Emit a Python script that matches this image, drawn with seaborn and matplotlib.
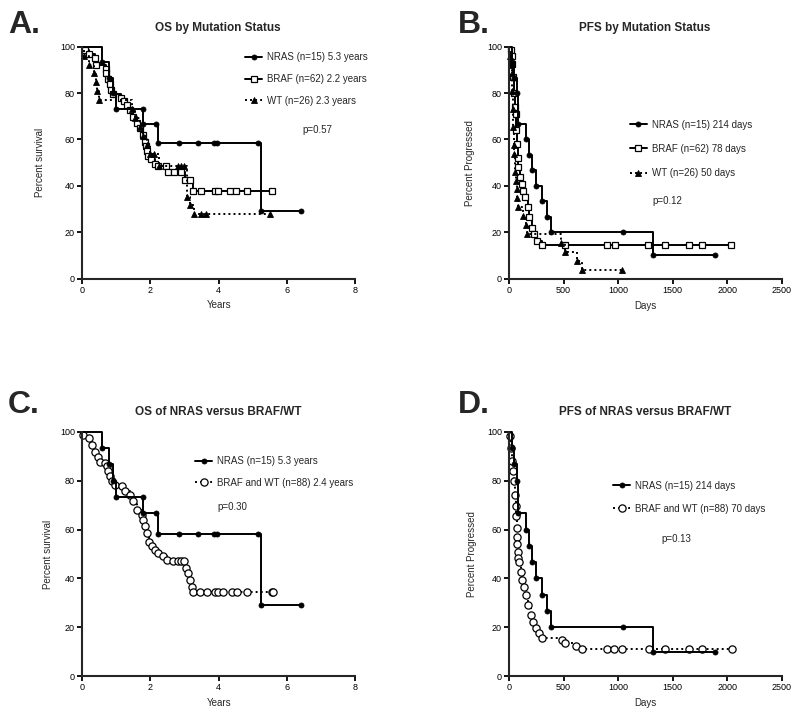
import numpy as np
import pandas as pd
import matplotlib
matplotlib.use('Agg')
import matplotlib.pyplot as plt
import seaborn as sns
from matplotlib.lines import Line2D

# ---------------- data ----------------
# NRAS (n=15) overall survival, years / percent survival
nras_os_years = [0, 0.6, 0.8, 0.9, 1.0, 1.78, 1.8, 2.18, 2.22, 2.85, 3.4, 3.85, 3.95, 5.16, 5.25, 6.4]
nras_os_pct = [100, 93.3, 86.7, 80.0, 73.3, 73.3, 66.7, 66.7, 58.3, 58.3, 58.3, 58.3, 58.3, 58.3, 29.2, 29.2]

# BRAF (n=62) overall survival
braf_os_years = [0, 0.1, 0.2, 0.37, 0.42, 0.69, 0.71, 0.76, 0.81, 0.86, 0.9, 1.15, 1.23, 1.32, 1.4,
                 1.5, 1.6, 1.7, 1.8, 1.84, 1.88, 1.9, 1.93, 2.03, 2.13, 2.22, 2.47, 2.52, 2.7, 2.9,
                 3.02, 3.15, 3.25, 3.49, 3.88, 3.98, 4.32, 4.51, 4.82, 5.57]
braf_os_pct = [100, 98.4, 96.8, 95.2, 91.9, 90.3, 88.7, 86.1, 83.9, 81.3, 79.7, 78.1, 76.5, 74.8, 72.7,
               69.5, 67.2, 65.0, 62.0, 59.0, 57.0, 55.0, 53.0, 51.5, 49.5, 48.5, 48.5, 46.0, 46.0, 46.0,
               42.5, 42.5, 38.0, 38.0, 38.0, 38.0, 38.0, 38.0, 38.0, 38.0]

# WT (n=26) overall survival
wt_os_years = [0, 0.05, 0.2, 0.35, 0.42, 0.45, 0.5, 1.45, 1.55, 1.7, 1.8, 1.9, 2.0, 2.1, 2.25,
               2.81, 2.9, 3.0, 3.07, 3.15, 3.27, 3.47, 3.64, 5.5]
wt_os_pct = [100, 96.2, 92.3, 88.5, 84.6, 80.8, 76.9, 73.1, 69.2, 65.4, 61.5, 57.7, 53.8, 53.8, 48.7,
             48.7, 48.7, 48.7, 35.0, 31.6, 27.8, 27.8, 27.8, 27.8]

# BRAF and WT (n=88) overall survival
comb_os_years = [0, 0.04, 0.2, 0.28, 0.38, 0.48, 0.53, 0.67, 0.72, 0.77, 0.82, 0.87, 0.97, 1.16, 1.26,
                 1.4, 1.5, 1.62, 1.75, 1.8, 1.85, 1.9, 1.95, 2.04, 2.14, 2.23, 2.38, 2.48, 2.65, 2.8,
                 2.9, 3.0, 3.05, 3.1, 3.15, 3.22, 3.26, 3.45, 3.65, 3.89, 3.99, 4.14, 4.38, 4.53,
                 4.84, 5.55, 5.6]
comb_os_pct = [100, 98.7, 97.3, 94.6, 91.8, 89.8, 87.8, 87.0, 85.8, 83.8, 81.7, 79.7, 78.3, 77.6, 75.6,
               74.2, 71.5, 68.1, 66.0, 64.0, 61.3, 58.5, 55.1, 53.1, 51.7, 50.4, 49.0, 47.6, 47.0, 47.0,
               47.0, 47.0, 44.2, 42.2, 39.5, 36.7, 34.3, 34.3, 34.3, 34.3, 34.3, 34.3, 34.3, 34.3,
               34.3, 34.3, 34.3]

# NRAS (n=15) progression-free survival, days / percent
nras_pfs_days = [0, 30, 49, 70, 80, 153, 186, 214, 244, 305, 351, 385, 1047, 1316, 1886]
nras_pfs_pct = [100, 93.3, 86.7, 80.0, 66.7, 60.0, 53.3, 46.7, 40.0, 33.3, 26.7, 20.0, 20.0, 10.0, 10.0]

# BRAF (n=62) progression-free survival
braf_pfs_days = [0, 20, 24, 30, 40, 49, 55, 61, 64, 70, 79, 85, 101, 116, 131, 146, 171, 186, 207,
                 232, 259, 305, 510, 897, 971, 1276, 1429, 1646, 1765, 2033]
braf_pfs_pct = [100, 98.4, 96.0, 92.5, 87.0, 80.0, 74.0, 71.0, 64.0, 58.0, 52.0, 48.0, 44.0, 41.0,
                38.0, 35.0, 31.0, 26.4, 22.0, 19.3, 16.4, 14.5, 14.5, 14.5, 14.5, 14.5, 14.5, 14.5,
                14.5, 14.5]

# WT (n=26) progression-free survival
wt_pfs_days = [0, 10, 18, 24, 30, 35, 40, 45, 49, 55, 62, 70, 76, 86, 131, 156, 168, 480, 513, 620,
               666, 1032]
wt_pfs_pct = [100, 96.2, 92.3, 88.5, 80.8, 73.1, 65.4, 57.7, 53.8, 46.2, 42.3, 38.5, 34.6, 30.8,
              26.9, 23.1, 19.2, 15.4, 11.5, 7.7, 3.8, 3.8]

# BRAF and WT (n=88) progression-free survival
comb_pfs_days = [0, 9, 18, 30, 40, 49, 55, 61, 66, 70, 72, 75, 80, 86, 92, 107, 122, 137, 159, 177,
                 198, 220, 244, 275, 305, 488, 511, 617, 665, 900, 964, 1032, 1285, 1429, 1651,
                 1765, 2039]
comb_pfs_pct = [100, 98.2, 93.4, 88.0, 83.9, 79.8, 74.3, 69.5, 65.4, 60.6, 57.0, 54.0, 51.0, 48.5,
                46.9, 42.8, 39.4, 36.7, 33.3, 29.2, 25.1, 22.4, 19.6, 17.6, 15.8, 14.9, 13.5, 12.4,
                11.1, 11.1, 11.1, 11.1, 11.1, 11.1, 11.1, 11.1, 11.1]

panel_letters = ["A.", "B.", "C.", "D."]
panel_titles = ["OS by Mutation Status", "PFS by Mutation Status",
                "OS of NRAS versus BRAF/WT", "PFS of NRAS versus BRAF/WT"]
legend_a = ["NRAS (n=15) 5.3 years", "BRAF (n=62) 2.2 years", "WT (n=26) 2.3 years"]
legend_b = ["NRAS (n=15) 214 days", "BRAF (n=62) 78 days", "WT (n=26) 50 days"]
legend_c = ["NRAS (n=15) 5.3 years", "BRAF and WT (n=88) 2.4 years"]
legend_d = ["NRAS (n=15) 214 days", "BRAF and WT (n=88) 70 days"]
p_values = ["p=0.57", "p=0.12", "p=0.30", "p=0.13"]
os_xticks = [0, 2, 4, 6, 8]
pfs_xticks = [0, 500, 1000, 1500, 2000, 2500]
yticks = [0, 20, 40, 60, 80, 100]

# ---------------- styling ----------------
sns.set_style('ticks')
plt.rcParams['font.family'] = ['Liberation Sans', 'DejaVu Sans']

LW = 1.4
DOT = (0, (1, 1.6))
nras_style = dict(color='black', linewidth=LW, linestyle='-', marker='o', markersize=3.6,
                  markerfacecolor='black', markeredgecolor='black', markeredgewidth=0.6)
braf_style = dict(color='black', linewidth=LW, linestyle='-', marker='s', markersize=5,
                  markerfacecolor='white', markeredgecolor='black', markeredgewidth=0.9)
wt_style = dict(color='black', linewidth=LW, linestyle=DOT, marker='^', markersize=3.8,
                markerfacecolor='black', markeredgecolor='black', markeredgewidth=0.6)
comb_style = dict(color='black', linewidth=LW, linestyle=DOT, marker='o', markersize=5.2,
                  markerfacecolor='white', markeredgecolor='black', markeredgewidth=0.9)

W, H = 800, 716
fig = plt.figure(figsize=(8, 7.16), dpi=100)


def axes_px(l, t, r, b):
    return fig.add_axes([l / W, 1 - b / H, (r - l) / W, (b - t) / H])


def km(ax, t, s, style):
    df = pd.DataFrame({'t': t, 's': s})
    sns.lineplot(data=df, x='t', y='s', ax=ax, estimator=None, sort=False,
                 drawstyle='steps-post', markevery=list(range(1, len(t))),
                 clip_on=False, **style)


def style_axes(ax, xticks, xmax, xlabel, ylabel, ylab_x, xlab_y):
    ax.set_xlim(0, xmax)
    ax.set_ylim(0, 100)
    ax.set_xticks(xticks)
    ax.set_yticks(yticks)
    sns.despine(ax=ax)
    for sp in ['left', 'bottom']:
        ax.spines[sp].set_linewidth(1.5)
    ax.tick_params(direction='out', length=3.5, width=1.3, labelsize=6.5, pad=1.5, colors='black')
    ax.set_xlabel(xlabel, fontsize=7)
    ax.set_ylabel(ylabel, fontsize=7)
    ax.yaxis.set_label_coords(ylab_x, 0.5)
    ax.xaxis.set_label_coords(0.5, xlab_y)


def handle(style):
    return Line2D([], [], **style)


axA = axes_px(82, 46.7, 355.3, 278.7)
axB = axes_px(509, 46.7, 782, 278.7)
axC = axes_px(82, 431.7, 355.3, 676.3)
axD = axes_px(509, 431.7, 782, 676.3)

# Panel A
km(axA, braf_os_years, braf_os_pct, braf_style)
km(axA, wt_os_years, wt_os_pct, wt_style)
km(axA, nras_os_years, nras_os_pct, nras_style)
style_axes(axA, os_xticks, 8, "Years", "Percent survival", -0.136, -0.092)
axA.legend([handle(nras_style), handle(braf_style), handle(wt_style)], legend_a,
           loc='upper left', bbox_to_anchor=(0.597, 0.975), frameon=False, fontsize=7,
           handlelength=1.75, handletextpad=0.5, labelspacing=1.2, borderpad=0,
           borderaxespad=0, numpoints=1)
axA.text(0.806, 0.641, p_values[0], transform=axA.transAxes, fontsize=7, va='center', ha='left')

# Panel B
km(axB, braf_pfs_days, braf_pfs_pct, braf_style)
km(axB, wt_pfs_days, wt_pfs_pct, wt_style)
km(axB, nras_pfs_days, nras_pfs_pct, nras_style)
style_axes(axB, pfs_xticks, 2500, "Days", "Percent Progressed", -0.125, -0.095)
axB.legend([handle(nras_style), handle(braf_style), handle(wt_style)], legend_b,
           loc='upper left', bbox_to_anchor=(0.443, 0.685), frameon=False, fontsize=7,
           handlelength=1.75, handletextpad=0.5, labelspacing=1.45, borderpad=0,
           borderaxespad=0, numpoints=1)
axB.text(0.524, 0.334, p_values[1], transform=axB.transAxes, fontsize=7, va='center', ha='left')

# Panel C
km(axC, comb_os_years, comb_os_pct, comb_style)
km(axC, nras_os_years, nras_os_pct, nras_style)
style_axes(axC, os_xticks, 8, "Years", "Percent survival", -0.106, -0.09)
axC.legend([handle(nras_style), handle(comb_style)], legend_c,
           loc='upper left', bbox_to_anchor=(0.414, 0.9), frameon=False, fontsize=7,
           handlelength=1.75, handletextpad=0.5, labelspacing=1.2, borderpad=0,
           borderaxespad=0, numpoints=1)
axC.text(0.495, 0.692, p_values[2], transform=axC.transAxes, fontsize=7, va='center', ha='left')

# Panel D
km(axD, comb_pfs_days, comb_pfs_pct, comb_style)
km(axD, nras_pfs_days, nras_pfs_pct, nras_style)
style_axes(axD, pfs_xticks, 2500, "Days", "Percent Progressed", -0.117, -0.09)
axD.legend([handle(nras_style), handle(comb_style)], legend_d,
           loc='upper left', bbox_to_anchor=(0.381, 0.8), frameon=False, fontsize=7,
           handlelength=1.75, handletextpad=0.5, labelspacing=1.35, borderpad=0,
           borderaxespad=0, numpoints=1)
axD.text(0.557, 0.561, p_values[3], transform=axD.transAxes, fontsize=7, va='center', ha='left')

# Panel letters and titles
letter_pos = [(8, 33), (458, 33), (8, 413), (458, 413)]
title_pos = [(218, 31), (645, 31), (218, 415), (645, 415)]
for (lx, ly), letter in zip(letter_pos, panel_letters):
    fig.text(lx / W, 1 - ly / H, letter, fontsize=23, fontweight='bold', ha='left', va='baseline')
for (tx, ty), title in zip(title_pos, panel_titles):
    fig.text(tx / W, 1 - ty / H, title, fontsize=8.5, fontweight='bold', ha='center', va='baseline')

fig.savefig('out.png', dpi=100)
